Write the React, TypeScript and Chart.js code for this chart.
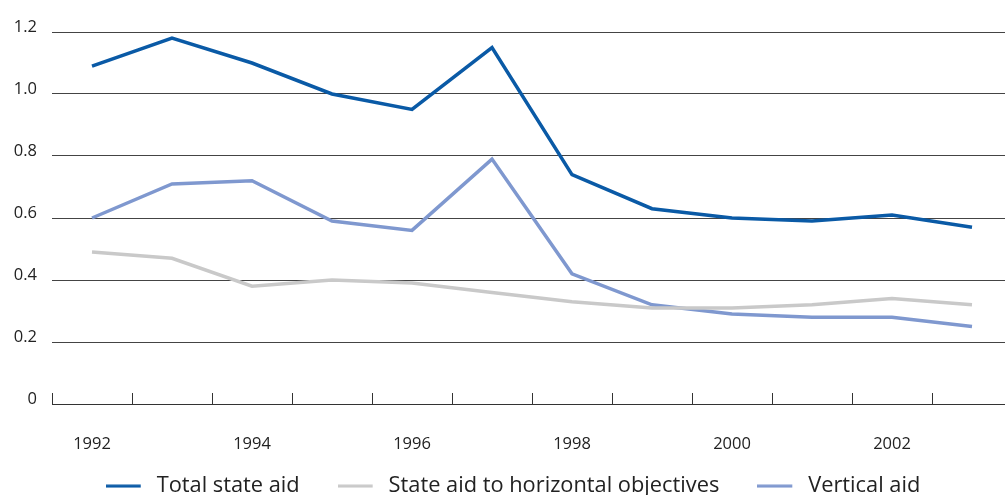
import React, { useEffect, useRef } from "react";
import { Chart, registerables } from "chart.js";

Chart.register(...registerables);

const years = ["1992", "1993", "1994", "1995", "1996", "1997", "1998", "1999", "2000", "2001", "2002", "2003"];
const totalStateAid = [1.09, 1.18, 1.10, 1.00, 0.95, 1.15, 0.74, 0.63, 0.60, 0.59, 0.61, 0.57];
const horizontalAid = [0.49, 0.47, 0.38, 0.40, 0.39, 0.36, 0.33, 0.31, 0.31, 0.32, 0.34, 0.32];
const verticalAid = [0.60, 0.71, 0.72, 0.59, 0.56, 0.79, 0.42, 0.32, 0.29, 0.28, 0.28, 0.25];
const seriesNames = ["Total state aid", "State aid to horizontal objectives", "Vertical aid"];
const seriesColors = ["#0a5aa6", "#c9c9c9", "#7f98cf"];
const yTicks = [0, 0.2, 0.4, 0.6, 0.8, 1.0, 1.2];

const FONT = "'Open Sans', 'Noto Sans', sans-serif";
const LEGEND_FONT = 21.8;
const LEGEND_PAD = 38;

function legendSymbol(color: string): HTMLCanvasElement {
  const c = document.createElement("canvas");
  c.width = 40;
  c.height = 4;
  const ctx = c.getContext("2d")!;
  ctx.fillStyle = color;
  ctx.fillRect(0, 0.5, 35, 3);
  return c;
}

export default function App() {
  const ref = useRef<HTMLCanvasElement | null>(null);

  useEffect(() => {
    document.body.style.margin = "0";
    const canvas = ref.current!;
    const mk = (label: string, data: number[], color: string) => ({
      label,
      data,
      borderColor: color,
      backgroundColor: color,
      borderWidth: 3.5,
      pointRadius: 0,
      tension: 0,
      fill: false,
    });
    const symbols = seriesColors.map(legendSymbol);
    const legendHeight = LEGEND_FONT + LEGEND_PAD + 10;
    const chart = new Chart(canvas, {
      type: "line",
      data: {
        labels: years,
        datasets: [
          mk(seriesNames[0], totalStateAid, seriesColors[0]),
          mk(seriesNames[1], horizontalAid, seriesColors[1]),
          mk(seriesNames[2], verticalAid, seriesColors[2]),
        ],
      },
      options: {
        animation: false,
        responsive: false,
        devicePixelRatio: 1,
        layout: { padding: { top: 32, left: 13, right: 0, bottom: 0 } },
        plugins: {
          tooltip: { enabled: false },
          legend: {
            position: "bottom",
            labels: {
              font: { family: FONT, size: LEGEND_FONT },
              color: "#222",
              usePointStyle: true,
              pointStyleWidth: 40,
              boxHeight: 4,
              padding: LEGEND_PAD,
              generateLabels: (c: any) =>
                c.data.datasets.map((d: any, i: number) => ({
                  text: d.label,
                  fillStyle: d.borderColor,
                  strokeStyle: d.borderColor,
                  lineWidth: 0,
                  hidden: false,
                  datasetIndex: i,
                  fontColor: "#222",
                  pointStyle: symbols[i],
                })),
            },
          },
        },
        scales: {
          x: {
            type: "category",
            offset: true,
            grid: {
              offset: true,
              drawOnChartArea: false,
              drawTicks: true,
              tickLength: -11,
              color: "#333",
              lineWidth: 1,
            },
            border: { display: true, color: "#333", width: 1 },
            ticks: {
              autoSkip: false,
              maxRotation: 0,
              padding: 41,
              color: "#222",
              font: { family: FONT, size: 16.5 },
              callback: (_v: any, i: number) => (i % 2 === 0 ? years[i] : ""),
            },
            afterFit: (s: any) => {
              s.height = 507 - legendHeight - 404;
              s._computeLabelArea = () => undefined;
            },
          },
          y: {
            min: 0,
            max: 1.2,
            afterBuildTicks: (s: any) => {
              s.ticks = yTicks.map((v) => ({ value: v }));
            },
            grid: { drawTicks: false, color: "#444", lineWidth: 1 },
            border: { display: false },
            ticks: {
              padding: 15,
              labelOffset: -5,
              color: "#222",
              font: { family: FONT, size: 16.5 },
              callback: (v: any) => (v === 0 ? "0" : Number(v).toFixed(1)),
            },
            afterFit: (s: any) => {
              s.width = 39;
            },
          },
        },
      },
    });
    return () => chart.destroy();
  }, []);

  return (
    <div style={{ width: 1005, height: 495, overflow: "hidden", position: "relative" }}>
      <canvas ref={ref} width={1013} height={507} style={{ display: "block" }} />
    </div>
  );
}
